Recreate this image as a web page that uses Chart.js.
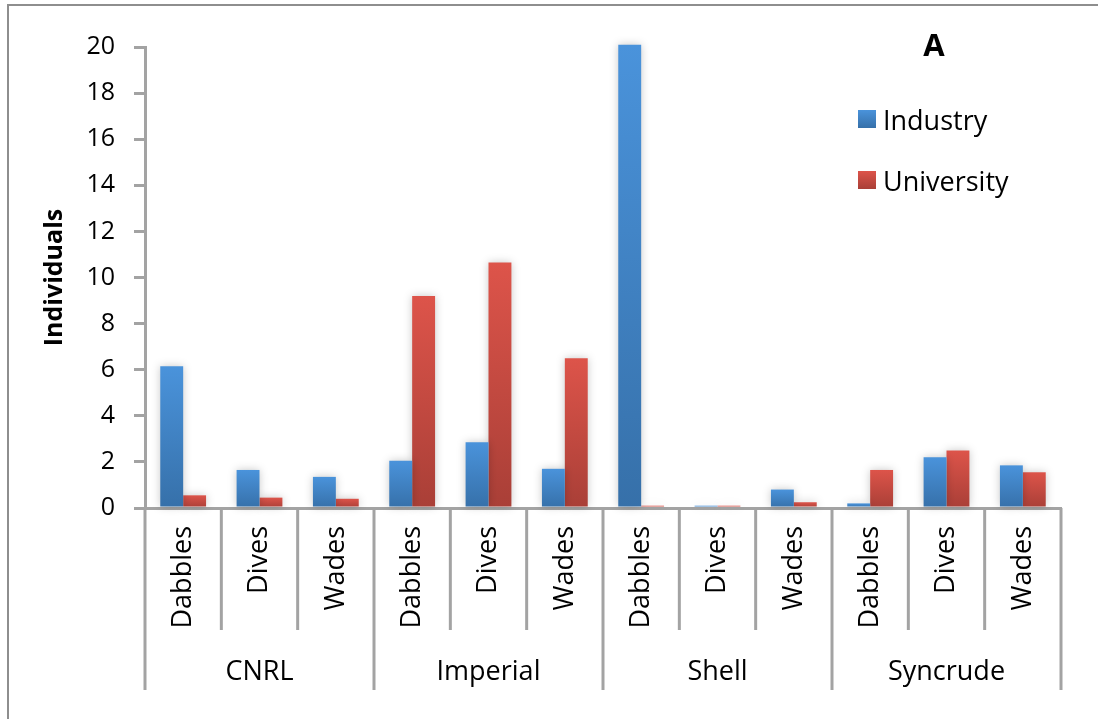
<!DOCTYPE html>
<html>
<head>
<meta charset="utf-8">
<script src="https://cdn.jsdelivr.net/npm/chart.js@4.4.0/dist/chart.umd.min.js"></script>
<style>
  html, body { margin: 0; padding: 0; background: #ffffff; }
  #wrap { width: 1098px; height: 719px; position: relative; }
</style>
</head>
<body>
<div id="wrap"><canvas id="c" width="1098" height="719"></canvas></div>
<script>
// ---- data ----
const companies = ['CNRL', 'Imperial', 'Shell', 'Syncrude'];
const behaviours = ['Dabbles', 'Dives', 'Wades'];
const industry   = [6.15, 1.65, 1.35,  2.05, 2.85, 1.7,  20.1, 0.1, 0.8,  0.2, 2.2, 1.85];
const university = [0.55, 0.45, 0.4,   9.2, 10.65, 6.5,  0.1, 0.1, 0.25,  1.65, 2.5, 1.55];
const yTicks = [0, 2, 4, 6, 8, 10, 12, 14, 16, 18, 20];
const panelLetter = 'A';
const yTitle = 'Individuals';

const categories = [];
companies.forEach(c => behaviours.forEach(b => categories.push(b)));

const FONT = '"Open Sans", Lato, sans-serif';
const AXIS_GREY = '#a3a3a3';

function barGradient(top, bottom) {
  return function (ctx) {
    const chart = ctx.chart;
    const ys = chart.scales && chart.scales.y;
    if (!ys || !chart.chartArea || ctx.raw === undefined) return top;
    const y1 = ys.getPixelForValue(ctx.raw);
    const y0 = ys.getPixelForValue(0);
    if (!isFinite(y1) || Math.abs(y0 - y1) < 1) return top;
    const g = chart.ctx.createLinearGradient(0, y1, 0, y0);
    g.addColorStop(0, top);
    g.addColorStop(1, bottom);
    return g;
  };
}

const shadowPlugin = {
  id: 'barShadow',
  beforeDatasetsDraw(chart) {
    const ctx = chart.ctx;
    ctx.save();
    ctx.shadowColor = 'rgba(0,0,0,0.22)';
    ctx.shadowBlur = 8;
    ctx.shadowOffsetX = 0;
    ctx.shadowOffsetY = 0;
  },
  afterDatasetsDraw(chart) {
    chart.ctx.restore();
  }
};

const decorPlugin = {
  id: 'decor',
  beforeDraw(chart) {
    const ctx = chart.ctx;
    ctx.save();
    ctx.strokeStyle = '#8e8e8e';
    ctx.lineWidth = 2;
    ctx.beginPath();
    ctx.moveTo(8, 730);
    ctx.lineTo(8, 5);
    ctx.lineTo(1110, 5);
    ctx.stroke();
    ctx.restore();
  },
  afterDraw(chart) {
    const ctx = chart.ctx;
    const xs = chart.scales.x;
    const ys = chart.scales.y;
    const base = ys.getPixelForValue(0);
    const n = categories.length;
    const per = behaviours.length;
    ctx.save();
    ctx.strokeStyle = AXIS_GREY;
    ctx.lineWidth = 3;
    // separators between categories
    for (let i = 0; i <= n; i++) {
      let x;
      if (i === 0) x = xs.getPixelForValue(0) - (xs.getPixelForValue(1) - xs.getPixelForValue(0)) / 2;
      else if (i === n) x = xs.getPixelForValue(n - 1) + (xs.getPixelForValue(n - 1) - xs.getPixelForValue(n - 2)) / 2;
      else x = (xs.getPixelForValue(i - 1) + xs.getPixelForValue(i)) / 2;
      const isGroup = i % per === 0;
      ctx.beginPath();
      ctx.moveTo(x, base);
      ctx.lineTo(x, isGroup ? 690 : 630);
      ctx.stroke();
    }
    // group labels
    ctx.fillStyle = '#000';
    ctx.font = '27px ' + FONT;
    ctx.textAlign = 'center';
    ctx.textBaseline = 'middle';
    companies.forEach((c, gi) => {
      const xa = xs.getPixelForValue(gi * per);
      const xb = xs.getPixelForValue(gi * per + per - 1);
      ctx.fillText(c, (xa + xb) / 2, 672);
    });
    // panel letter
    ctx.font = 'bold 31px ' + FONT;
    ctx.fillText(panelLetter, 934, 47);
    // legend
    const items = chart.data.datasets;
    ctx.font = '27px ' + FONT;
    ctx.textAlign = 'left';
    items.forEach((ds, i) => {
      const yc = 119 + i * 61;
      const g = ctx.createLinearGradient(0, yc - 9, 0, yc + 9);
      g.addColorStop(0, ds._legTop);
      g.addColorStop(1, ds._legBot);
      ctx.fillStyle = g;
      ctx.fillRect(858, yc - 9, 18, 18);
      ctx.fillStyle = '#000';
      ctx.fillText(ds.label, 883, yc + 3);
    });
    ctx.restore();
  }
};

new Chart(document.getElementById('c'), {
  type: 'bar',
  data: {
    labels: categories,
    datasets: [
      {
        label: 'Industry',
        data: industry,
        backgroundColor: barGradient('#4a93db', '#3670a9'),
        _legTop: '#4a93db', _legBot: '#3670a9',
        categoryPercentage: 0.6,
        barPercentage: 1.0,
        clip: false
      },
      {
        label: 'University',
        data: university,
        backgroundColor: barGradient('#dd544a', '#a93f37'),
        _legTop: '#dd544a', _legBot: '#a93f37',
        categoryPercentage: 0.6,
        barPercentage: 1.0,
        clip: false
      }
    ]
  },
  options: {
    responsive: false,
    animation: false,
    devicePixelRatio: 1,
    layout: { padding: { left: 0, right: 37, top: 47, bottom: 76 } },
    plugins: {
      legend: { display: false },
      tooltip: { enabled: false },
      title: { display: false }
    },
    scales: {
      x: {
        type: 'category',
        grid: { display: false },
        border: { display: true, color: AXIS_GREY, width: 3 },
        ticks: {
          minRotation: 90,
          maxRotation: 90,
          padding: 10,
          color: '#000',
          autoSkip: false,
          font: { family: FONT, size: 27 }
        },
        afterFit(scale) { scale.height = 135; }
      },
      y: {
        min: 0,
        max: 20,
        afterBuildTicks(scale) { scale.ticks = yTicks.map(v => ({ value: v })); },
        grid: {
          drawOnChartArea: false,
          drawTicks: true,
          tickLength: 11,
          color: AXIS_GREY,
          lineWidth: 3
        },
        border: { display: true, color: AXIS_GREY, width: 3 },
        ticks: {
          padding: 19,
          color: '#000',
          font: { family: FONT, size: 25 }
        },
        title: {
          display: true,
          text: yTitle,
          color: '#000',
          font: { family: FONT, size: 25, weight: 'bold' },
          padding: { top: 40, bottom: 0 }
        },
        afterFit(scale) { scale.width = 145; }
      }
    }
  },
  plugins: [decorPlugin, shadowPlugin]
});
</script>
</body>
</html>
